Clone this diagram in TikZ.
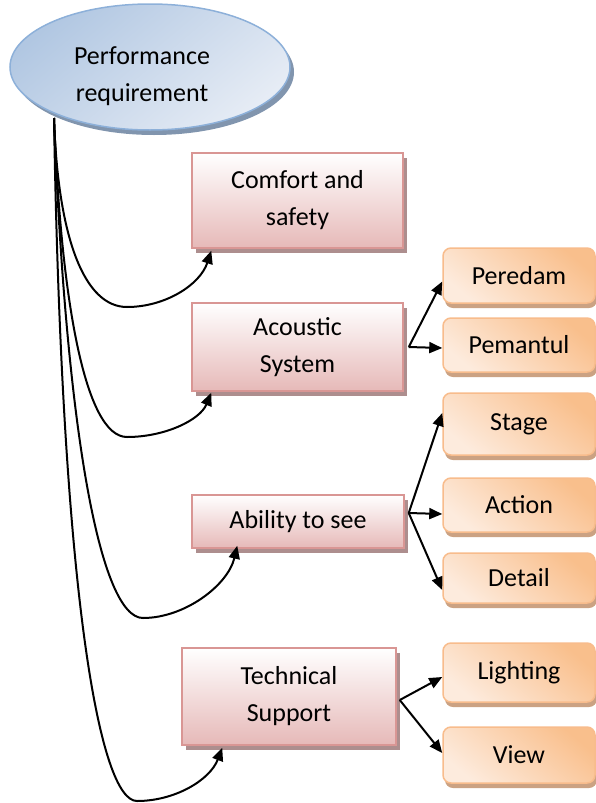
\documentclass[tikz,border=0pt]{standalone}
\usepackage{fontspec}
\setmainfont{Carlito}
\usetikzlibrary{shapes.geometric,shadows,arrows.meta}
\definecolor{ellBorder}{HTML}{8DB0D9}
\definecolor{ellDark}{HTML}{B1C7E2}
\definecolor{ellLight}{HTML}{E6ECF5}
\definecolor{ellShadow}{HTML}{8195AE}
\definecolor{pinkBorder}{HTML}{D99694}
\definecolor{pinkDark}{HTML}{E6B9B8}
\definecolor{pinkShadow}{HTML}{AD8E8E}
\definecolor{orBorder}{HTML}{F8BC8C}
\definecolor{orDark}{HTML}{F9BF8C}
\definecolor{orLight}{HTML}{FDEBDD}
\definecolor{orShadow}{HTML}{CBA283}
\begin{document}
\begin{tikzpicture}[x=1pt,y=-1pt,
  txt/.style={font=\fontsize{26}{37}\selectfont, align=center, inner sep=0pt},
  ellbox/.style={ellipse, draw=ellBorder, line width=1.5pt,
    top color=ellDark, bottom color=ellLight, shading angle=40,
    drop shadow={shadow xshift=4pt, shadow yshift=-5pt, fill=ellShadow, opacity=1},
    minimum width=280pt, minimum height=126pt},
  pinkbox/.style={txt, rectangle, draw=pinkBorder, line width=1.5pt,
    top color=white, bottom color=pinkDark,
    drop shadow={shadow xshift=4pt, shadow yshift=-5pt, fill=pinkShadow, opacity=1}},
  orbox/.style={txt, rectangle, rounded corners=8pt, draw=orBorder, line width=1.5pt,
    top color=orDark, bottom color=orLight, shading angle=-40,
    drop shadow={shadow xshift=2pt, shadow yshift=-5pt, fill=orShadow, opacity=1},
    minimum width=152pt},
  conn/.style={line width=2pt, -{Triangle[length=13pt,width=11pt]}}
]
\useasboundingbox (0,0) rectangle (596,803);

\coordinate (src) at (54,118);
\coordinate (b1) at (127,307);
\coordinate (b2) at (127,437);
\coordinate (b3) at (143,618);
\coordinate (b4) at (137,801);

% nodes
\node[ellbox, label={[txt, xshift=-8pt, yshift=-9pt]center:{Performance\\requirement}}] (perf) at (150,67) {};

\node[pinkbox, minimum width=211pt, minimum height=95pt] (comfort) at (297.5,200.5) {Comfort and\\safety};
\node[pinkbox, minimum width=211pt, minimum height=88pt] (acoustic) at (297.5,347) {Acoustic\\System};
\node[pinkbox, minimum width=212pt, minimum height=53pt] (ability) at (298,521.5) {Ability to see};
\node[pinkbox, minimum width=214pt, minimum height=97pt] (technical) at (289,696.5) {Technical\\Support};

\node[orbox, minimum height=55pt] (peredam) at (519,275.5) {Peredam};
\node[orbox, minimum height=54pt] (pemantul) at (519,345) {Pemantul};
\node[orbox, minimum height=62pt] (stage) at (519,424) {Stage};
\node[orbox, minimum height=54pt] (action) at (519,505) {Action};
\node[orbox, minimum height=50pt] (detail) at (519,578) {Detail};
\node[orbox, minimum height=59pt] (lighting) at (519,672.5) {Lighting};
\node[orbox, minimum height=56pt] (view) at (519,755) {View};

% connectors from the ellipse
\draw[conn] (src) .. controls (58,240) and (85,307) .. (b1)
  .. controls (165,307) and (200,285) .. ([xshift=20pt,yshift=-2pt]comfort.south west);
\draw[conn] (src) .. controls (61,300) and (85,437) .. (b2)
  .. controls (165,437) and (200,420) .. ([xshift=20pt,yshift=-1pt]acoustic.south west);
\draw[conn] (src) .. controls (66,430) and (100,618) .. (b3)
  .. controls (185,618) and (228,585) .. ([xshift=46pt,yshift=3pt]ability.south west);
\draw[conn] (src) .. controls (62,600) and (100,801) .. (b4)
  .. controls (175,801) and (210,780) .. ([xshift=41pt,yshift=-2pt]technical.south west);

% right-hand connectors
\coordinate (oa) at ([xshift=5pt]acoustic.east);
\coordinate (ob) at ([xshift=4pt,yshift=8.5pt]ability.east);
\coordinate (oc) at ([xshift=3pt,yshift=-3.5pt]technical.east);
\draw[conn] (oa) -- ([yshift=-6pt]peredam.west);
\draw[conn] (oa) -- ([yshift=-3pt]pemantul.west);
\draw[conn] (ob) -- ([yshift=11pt]stage.west);
\draw[conn] (ob) -- ([yshift=-9pt]action.west);
\draw[conn] (ob) -- ([yshift=-12pt]detail.west);
\draw[conn] (oc) -- ([yshift=-4.5pt]lighting.west);
\draw[conn] (oc) -- ([yshift=2pt]view.west);
\end{tikzpicture}
\end{document}
